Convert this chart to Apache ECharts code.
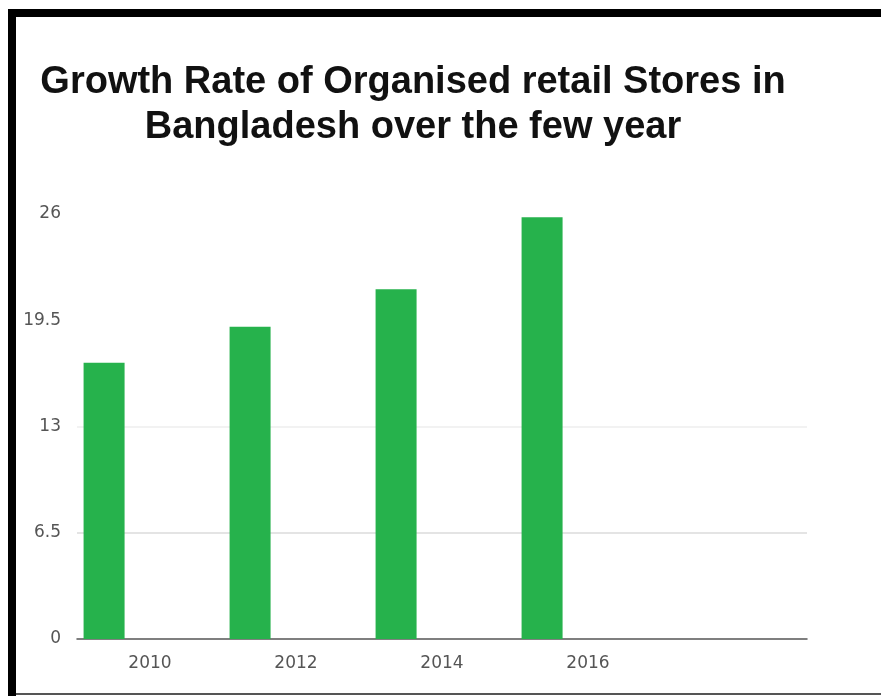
<!DOCTYPE html>
<html>
<head>
<meta charset="utf-8">
<script src="https://cdn.jsdelivr.net/npm/echarts@6/dist/echarts.min.js"></script>
<style>
html,body{margin:0;padding:0;background:#fff;}
#chart{width:881px;height:696px;}
</style>
</head>
<body>
<div id="chart"></div>
<script>
var categories = ['2010', '2012', '2014', '2016', ''];
var growthValues = [16.9, 19.1, 21.4, 25.8, '-'];
var spacerValues = ['-', '-', '-', '-', '-'];
var yTicks = [0, 6.5, 13, 19.5, 26];

var chart = echarts.init(document.getElementById('chart'), null, {renderer: 'canvas'});
chart.setOption({
  backgroundColor: '#ffffff',
  animation: false,
  title: {
    text: 'Growth Rate of Organised retail Stores in\nBangladesh over the few year',
    left: 413,
    top: 60,
    padding: 0,
    textAlign: 'center',
    textStyle: {
      fontFamily: 'Liberation Sans',
      fontWeight: 'bold',
      fontSize: 38,
      lineHeight: 45,
      color: '#111111'
    }
  },
  graphic: [
    {type: 'rect', shape: {x: 8, y: 9, width: 873, height: 8}, style: {fill: '#000'}, z: 100},
    {type: 'rect', shape: {x: 8, y: 9, width: 8, height: 687}, style: {fill: '#000'}, z: 100},
    {type: 'rect', shape: {x: 16, y: 693, width: 865, height: 2}, style: {fill: '#555'}, z: 100}
  ],
  grid: {left: 77, right: 74, top: 214, bottom: 57, containLabel: false},
  xAxis: {
    type: 'category',
    data: categories,
    axisLine: {show: true, lineStyle: {color: '#555', width: 1.5}},
    axisTick: {show: false},
    axisLabel: {
      margin: 16,
      fontFamily: 'DejaVu Sans',
      fontSize: 17,
      color: '#555'
    },
    splitLine: {show: false}
  },
  yAxis: {
    type: 'value',
    min: yTicks[0],
    max: yTicks[yTicks.length - 1],
    interval: 6.5,
    axisLine: {show: false},
    axisTick: {show: false},
    axisLabel: {
      margin: 16,
      fontFamily: 'DejaVu Sans',
      fontSize: 17,
      color: '#555',
      padding: [4, 0, 0, 0]
    },
    splitLine: {
      show: true,
      lineStyle: {
        color: ['rgba(0,0,0,0)', '#e4e4e4', '#f2f2f2', 'rgba(0,0,0,0)', 'rgba(0,0,0,0)'],
        width: 2
      }
    }
  },
  series: [
    {
      type: 'bar',
      data: growthValues,
      barWidth: 41,
      barGap: '124%',
      itemStyle: {color: '#26b24c'}
    },
    {
      type: 'bar',
      data: spacerValues,
      barWidth: 41,
      itemStyle: {color: '#26b24c'}
    }
  ]
});
</script>
</body>
</html>
